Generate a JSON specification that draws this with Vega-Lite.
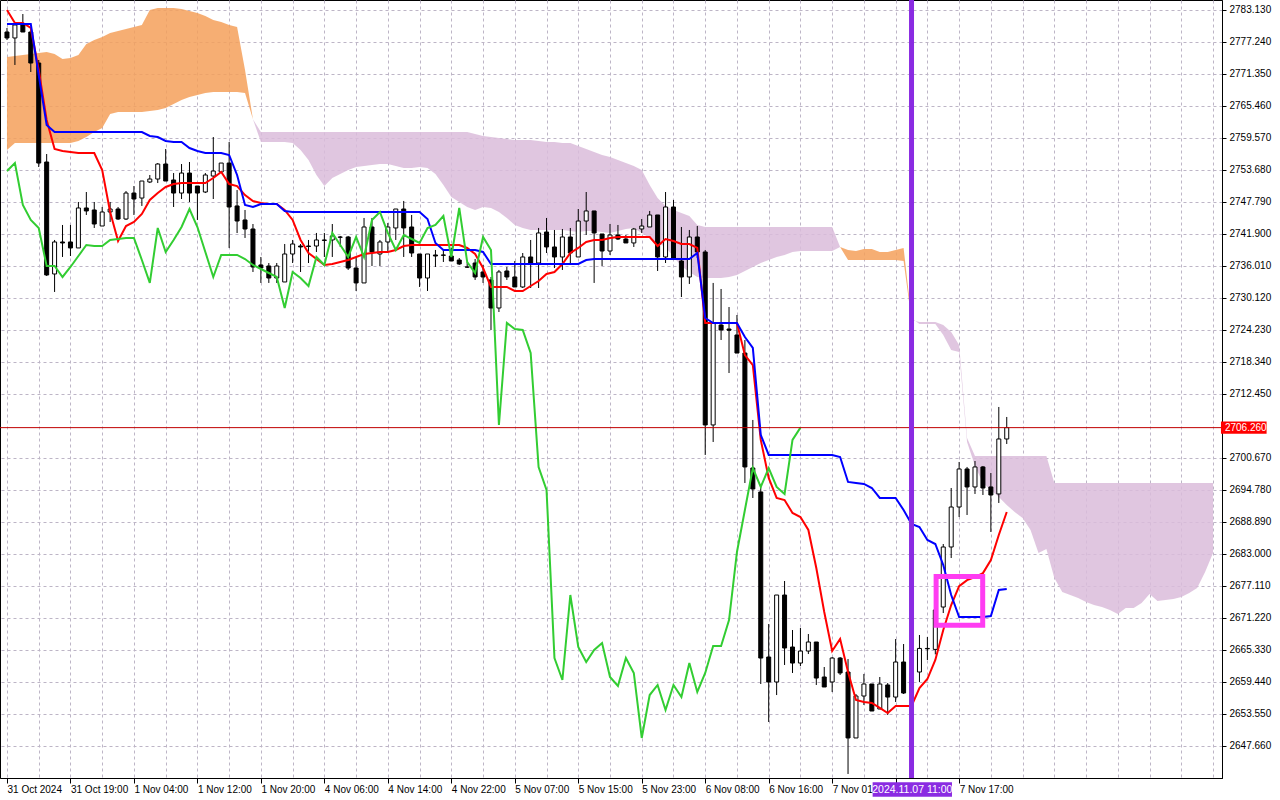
{
"$schema":"https://vega.github.io/schema/vega-lite/v6.json",
"width":1222,"height":778,
"autosize":{"type":"none"},
"padding":{"left":0,"top":0,"right":58,"bottom":22},
"background":"white",
"config":{"view":{"stroke":"#000","strokeWidth":1},
 "axis":{"labelFont":"Liberation Sans","labelFontSize":10,"labelColor":"#000","tickColor":"#000","domainColor":"#000","gridColor":"#bdb5c6","gridDash":[3,3],"gridWidth":1,"labelOverlap":false,"labelFlush":false,"labelBound":false}},
"datasets":{
"bars":[
{"i":0,"o":2779.08,"h":2779.82,"l":2777.61,"c":2777.98,"tk":2783.13,"kj":2780.55,"ck":2753.49},
{"i":1,"o":2777.98,"h":2780.37,"l":2773.01,"c":2780.37,"tk":2780.74,"kj":2780.55,"ck":2754.96},
{"i":2,"o":2780.37,"h":2782.39,"l":2779.08,"c":2779.08,"tk":2780.74,"kj":2780.55,"ck":2747.24},
{"i":3,"o":2779.08,"h":2780.00,"l":2771.72,"c":2773.37,"tk":2779.82,"kj":2780.55,"ck":2744.48},
{"i":4,"o":2773.37,"h":2773.93,"l":2754.23,"c":2754.96,"tk":2772.09,"kj":2771.17,"ck":2743.01},
{"i":5,"o":2755.15,"h":2756.62,"l":2734.17,"c":2734.36,"tk":2762.88,"kj":2761.96,"ck":2736.01},
{"i":6,"o":2734.54,"h":2740.80,"l":2731.23,"c":2740.43,"tk":2757.54,"kj":2760.67,"ck":2736.01},
{"i":7,"o":2740.43,"h":2743.56,"l":2737.67,"c":2740.25,"tk":2757.17,"kj":2760.67,"ck":2733.99},
{"i":8,"o":2740.43,"h":2743.56,"l":2737.85,"c":2739.33,"tk":2756.99,"kj":2760.67,"ck":2735.83},
{"i":9,"o":2739.33,"h":2747.79,"l":2739.33,"c":2746.69,"tk":2756.80,"kj":2760.67,"ck":2737.85},
{"i":10,"o":2746.69,"h":2749.63,"l":2745.40,"c":2746.14,"tk":2756.80,"kj":2760.67,"ck":2739.88},
{"i":11,"o":2746.32,"h":2747.79,"l":2743.01,"c":2743.74,"tk":2756.80,"kj":2760.67,"ck":2739.69},
{"i":12,"o":2743.37,"h":2746.87,"l":2743.37,"c":2745.95,"tk":2753.67,"kj":2760.67,"ck":2739.69},
{"i":13,"o":2745.95,"h":2747.79,"l":2744.11,"c":2746.50,"tk":2745.95,"kj":2760.67,"ck":2740.80},
{"i":14,"o":2746.50,"h":2746.87,"l":2744.48,"c":2744.66,"tk":2740.61,"kj":2760.67,"ck":2740.98},
{"i":15,"o":2744.66,"h":2749.81,"l":2744.48,"c":2749.44,"tk":2743.37,"kj":2760.67,"ck":2741.17},
{"i":16,"o":2749.44,"h":2750.73,"l":2745.40,"c":2748.34,"tk":2744.11,"kj":2760.67,"ck":2741.17},
{"i":17,"o":2748.52,"h":2751.65,"l":2747.06,"c":2751.65,"tk":2745.58,"kj":2760.67,"ck":2737.11},
{"i":18,"o":2751.47,"h":2752.76,"l":2751.28,"c":2752.02,"tk":2748.16,"kj":2759.94,"ck":2732.89},
{"i":19,"o":2752.02,"h":2754.96,"l":2751.28,"c":2754.78,"tk":2749.44,"kj":2759.75,"ck":2743.01},
{"i":20,"o":2754.78,"h":2757.54,"l":2751.65,"c":2751.65,"tk":2750.55,"kj":2759.02,"ck":2738.59},
{"i":21,"o":2751.84,"h":2753.12,"l":2746.87,"c":2749.44,"tk":2751.10,"kj":2758.83,"ck":2740.80},
{"i":22,"o":2749.44,"h":2754.78,"l":2748.34,"c":2753.12,"tk":2751.28,"kj":2758.83,"ck":2743.19},
{"i":23,"o":2753.12,"h":2755.15,"l":2747.79,"c":2749.44,"tk":2751.28,"kj":2757.73,"ck":2746.50},
{"i":24,"o":2750.73,"h":2750.73,"l":2744.48,"c":2749.44,"tk":2751.28,"kj":2757.17,"ck":2743.19},
{"i":25,"o":2749.63,"h":2753.12,"l":2749.44,"c":2752.76,"tk":2751.28,"kj":2756.80,"ck":2738.59},
{"i":26,"o":2752.57,"h":2759.75,"l":2748.34,"c":2753.49,"tk":2752.20,"kj":2756.80,"ck":2733.99},
{"i":27,"o":2753.31,"h":2754.96,"l":2753.31,"c":2754.96,"tk":2753.31,"kj":2756.80,"ck":2738.04},
{"i":28,"o":2754.96,"h":2758.83,"l":2739.33,"c":2746.87,"tk":2751.10,"kj":2756.44,"ck":2738.04},
{"i":29,"o":2747.06,"h":2749.99,"l":2742.08,"c":2744.29,"tk":2750.73,"kj":2752.76,"ck":2738.04},
{"i":30,"o":2744.48,"h":2746.32,"l":2741.17,"c":2742.82,"tk":2749.07,"kj":2747.24,"ck":2737.30},
{"i":31,"o":2742.82,"h":2743.74,"l":2734.91,"c":2735.83,"tk":2747.98,"kj":2746.87,"ck":2736.20},
{"i":32,"o":2736.20,"h":2737.67,"l":2732.89,"c":2735.64,"tk":2747.61,"kj":2747.42,"ck":2735.46},
{"i":33,"o":2736.01,"h":2736.56,"l":2732.89,"c":2733.80,"tk":2747.42,"kj":2747.42,"ck":2734.72},
{"i":34,"o":2733.80,"h":2736.56,"l":2732.89,"c":2736.01,"tk":2747.42,"kj":2747.42,"ck":2733.99},
{"i":35,"o":2733.07,"h":2740.06,"l":2733.07,"c":2738.22,"tk":2746.32,"kj":2746.14,"ck":2728.28},
{"i":36,"o":2738.22,"h":2740.80,"l":2736.56,"c":2740.06,"tk":2744.48,"kj":2745.95,"ck":2734.91},
{"i":37,"o":2739.69,"h":2740.06,"l":2734.91,"c":2739.51,"tk":2740.80,"kj":2745.95,"ck":2733.80},
{"i":38,"o":2739.69,"h":2740.80,"l":2736.56,"c":2739.60,"tk":2738.40,"kj":2745.95,"ck":2732.33},
{"i":39,"o":2739.69,"h":2742.09,"l":2738.59,"c":2740.80,"tk":2737.30,"kj":2745.95,"ck":2737.67},
{"i":40,"o":2740.80,"h":2742.09,"l":2737.67,"c":2740.72,"tk":2736.20,"kj":2745.95,"ck":2736.20},
{"i":41,"o":2740.80,"h":2743.74,"l":2737.67,"c":2741.54,"tk":2736.38,"kj":2745.95,"ck":2742.09},
{"i":42,"o":2741.35,"h":2741.54,"l":2739.51,"c":2741.30,"tk":2736.75,"kj":2745.95,"ck":2739.88},
{"i":43,"o":2741.35,"h":2741.54,"l":2735.28,"c":2735.64,"tk":2737.11,"kj":2745.95,"ck":2737.67},
{"i":44,"o":2735.64,"h":2737.67,"l":2731.41,"c":2732.89,"tk":2737.67,"kj":2745.95,"ck":2741.35},
{"i":45,"o":2732.89,"h":2744.85,"l":2732.89,"c":2743.19,"tk":2738.22,"kj":2745.95,"ck":2737.67},
{"i":46,"o":2743.19,"h":2744.85,"l":2736.01,"c":2738.59,"tk":2738.40,"kj":2745.95,"ck":2744.48},
{"i":47,"o":2738.22,"h":2740.80,"l":2736.01,"c":2740.43,"tk":2738.59,"kj":2745.95,"ck":2745.95},
{"i":48,"o":2740.43,"h":2743.93,"l":2738.59,"c":2743.19,"tk":2738.59,"kj":2745.95,"ck":2742.09},
{"i":49,"o":2743.01,"h":2746.50,"l":2740.80,"c":2746.50,"tk":2738.96,"kj":2745.95,"ck":2738.96},
{"i":50,"o":2746.50,"h":2747.98,"l":2737.67,"c":2743.01,"tk":2739.69,"kj":2745.95,"ck":2741.72},
{"i":51,"o":2743.19,"h":2745.40,"l":2737.67,"c":2738.40,"tk":2739.88,"kj":2745.95,"ck":2740.98},
{"i":52,"o":2738.22,"h":2738.22,"l":2732.15,"c":2733.80,"tk":2739.88,"kj":2745.95,"ck":2740.25},
{"i":53,"o":2733.80,"h":2738.22,"l":2731.41,"c":2738.22,"tk":2739.88,"kj":2744.66,"ck":2743.01},
{"i":54,"o":2738.04,"h":2738.96,"l":2735.83,"c":2737.85,"tk":2739.88,"kj":2740.25,"ck":2743.56},
{"i":55,"o":2738.04,"h":2738.96,"l":2736.75,"c":2737.98,"tk":2739.88,"kj":2738.96,"ck":2745.21},
{"i":56,"o":2737.85,"h":2739.33,"l":2736.93,"c":2736.93,"tk":2739.88,"kj":2738.96,"ck":2737.67},
{"i":57,"o":2737.11,"h":2737.48,"l":2736.20,"c":2736.38,"tk":2739.88,"kj":2738.96,"ck":2746.69},
{"i":58,"o":2735.83,"h":2736.75,"l":2735.64,"c":2735.80,"tk":2739.33,"kj":2738.96,"ck":2736.75},
{"i":59,"o":2736.56,"h":2737.30,"l":2733.44,"c":2733.99,"tk":2738.22,"kj":2738.96,"ck":2734.72},
{"i":60,"o":2734.91,"h":2736.20,"l":2732.89,"c":2733.99,"tk":2735.64,"kj":2738.59,"ck":2741.35},
{"i":61,"o":2733.44,"h":2733.99,"l":2724.23,"c":2728.28,"tk":2732.15,"kj":2736.38,"ck":2738.96},
{"i":62,"o":2728.28,"h":2735.28,"l":2727.54,"c":2734.91,"tk":2732.15,"kj":2736.38,"ck":2706.75},
{"i":63,"o":2735.09,"h":2735.83,"l":2733.44,"c":2733.99,"tk":2732.15,"kj":2736.38,"ck":2725.52},
{"i":64,"o":2733.99,"h":2736.93,"l":2732.15,"c":2732.15,"tk":2731.41,"kj":2736.38,"ck":2724.41},
{"i":65,"o":2732.15,"h":2738.40,"l":2731.96,"c":2737.67,"tk":2731.41,"kj":2736.38,"ck":2724.23},
{"i":66,"o":2737.67,"h":2740.80,"l":2731.96,"c":2736.56,"tk":2732.33,"kj":2736.38,"ck":2719.99},
{"i":67,"o":2736.56,"h":2743.01,"l":2731.96,"c":2742.09,"tk":2733.25,"kj":2736.38,"ck":2699.02},
{"i":68,"o":2742.27,"h":2744.85,"l":2738.40,"c":2739.51,"tk":2734.54,"kj":2736.38,"ck":2694.79},
{"i":69,"o":2739.51,"h":2742.64,"l":2735.64,"c":2737.67,"tk":2734.91,"kj":2736.38,"ck":2663.85},
{"i":70,"o":2737.67,"h":2742.82,"l":2735.28,"c":2741.35,"tk":2736.38,"kj":2736.38,"ck":2659.81},
{"i":71,"o":2741.35,"h":2743.01,"l":2736.56,"c":2738.40,"tk":2738.40,"kj":2736.38,"ck":2675.45},
{"i":72,"o":2737.67,"h":2746.50,"l":2737.67,"c":2744.29,"tk":2739.33,"kj":2736.38,"ck":2665.88},
{"i":73,"o":2744.29,"h":2749.63,"l":2741.72,"c":2746.14,"tk":2740.43,"kj":2737.11,"ck":2663.12},
{"i":74,"o":2746.14,"h":2746.14,"l":2732.89,"c":2742.09,"tk":2740.80,"kj":2737.30,"ck":2665.33},
{"i":75,"o":2741.90,"h":2741.90,"l":2736.01,"c":2738.77,"tk":2740.80,"kj":2737.30,"ck":2666.62},
{"i":76,"o":2738.77,"h":2743.74,"l":2738.04,"c":2741.72,"tk":2741.17,"kj":2737.30,"ck":2660.36},
{"i":77,"o":2741.72,"h":2743.56,"l":2740.80,"c":2740.98,"tk":2741.35,"kj":2737.30,"ck":2658.70},
{"i":78,"o":2740.98,"h":2741.72,"l":2740.25,"c":2740.25,"tk":2741.35,"kj":2737.30,"ck":2663.85},
{"i":79,"o":2740.25,"h":2743.01,"l":2739.51,"c":2742.82,"tk":2741.35,"kj":2737.30,"ck":2661.10},
{"i":80,"o":2742.82,"h":2744.66,"l":2742.09,"c":2743.37,"tk":2741.35,"kj":2737.30,"ck":2649.14},
{"i":81,"o":2743.19,"h":2746.14,"l":2743.19,"c":2745.40,"tk":2741.35,"kj":2737.30,"ck":2657.04},
{"i":82,"o":2745.40,"h":2745.40,"l":2735.09,"c":2737.67,"tk":2739.69,"kj":2737.30,"ck":2658.89},
{"i":83,"o":2737.67,"h":2749.63,"l":2736.56,"c":2746.87,"tk":2740.98,"kj":2737.30,"ck":2654.29},
{"i":84,"o":2746.87,"h":2748.16,"l":2737.48,"c":2737.48,"tk":2740.61,"kj":2737.30,"ck":2658.89},
{"i":85,"o":2736.93,"h":2743.19,"l":2730.30,"c":2733.99,"tk":2740.06,"kj":2737.30,"ck":2656.67},
{"i":86,"o":2733.99,"h":2742.64,"l":2732.70,"c":2741.35,"tk":2740.06,"kj":2737.30,"ck":2662.93},
{"i":87,"o":2741.35,"h":2743.37,"l":2737.48,"c":2738.59,"tk":2739.33,"kj":2738.40,"ck":2657.60},
{"i":88,"o":2738.59,"h":2738.96,"l":2701.23,"c":2706.75,"tk":2725.52,"kj":2726.44,"ck":2661.10},
{"i":89,"o":2706.75,"h":2732.89,"l":2703.62,"c":2725.52,"tk":2725.52,"kj":2725.52,"ck":2666.07},
{"i":90,"o":2725.15,"h":2731.78,"l":2722.39,"c":2724.23,"tk":2725.52,"kj":2725.52,"ck":2666.07},
{"i":91,"o":2724.41,"h":2728.46,"l":2716.31,"c":2724.18,"tk":2725.52,"kj":2725.52,"ck":2670.85},
{"i":92,"o":2723.31,"h":2726.99,"l":2719.99,"c":2719.99,"tk":2725.52,"kj":2725.52,"ck":2683.37},
{"i":93,"o":2719.99,"h":2722.39,"l":2696.07,"c":2699.02,"tk":2719.62,"kj":2722.94,"ck":2691.10},
{"i":94,"o":2698.83,"h":2707.67,"l":2693.31,"c":2694.97,"tk":2717.78,"kj":2720.92,"ck":2698.83},
{"i":95,"o":2694.42,"h":2695.34,"l":2659.07,"c":2663.85,"tk":2703.99,"kj":2704.91,"ck":2695.34},
{"i":96,"o":2664.04,"h":2670.11,"l":2652.08,"c":2659.44,"tk":2696.99,"kj":2701.23,"ck":2698.83},
{"i":97,"o":2659.44,"h":2675.45,"l":2657.04,"c":2675.45,"tk":2693.31,"kj":2701.23,"ck":2695.34},
{"i":98,"o":2675.45,"h":2678.03,"l":2662.57,"c":2665.70,"tk":2692.94,"kj":2701.23,"ck":2694.05},
{"i":99,"o":2665.88,"h":2669.01,"l":2661.10,"c":2662.93,"tk":2690.55,"kj":2701.23,"ck":2703.99},
{"i":100,"o":2662.93,"h":2669.38,"l":2662.38,"c":2665.14,"tk":2689.81,"kj":2701.23,"ck":2706.26},
{"i":101,"o":2665.14,"h":2668.27,"l":2664.59,"c":2666.80,"tk":2687.42,"kj":2701.23},
{"i":102,"o":2666.80,"h":2666.80,"l":2658.89,"c":2660.17,"tk":2680.42,"kj":2701.23},
{"i":103,"o":2660.36,"h":2662.20,"l":2658.52,"c":2658.52,"tk":2672.32,"kj":2701.23},
{"i":104,"o":2659.44,"h":2664.04,"l":2657.60,"c":2663.85,"tk":2665.14,"kj":2701.23},
{"i":105,"o":2663.85,"h":2664.04,"l":2660.73,"c":2661.10,"tk":2667.35,"kj":2700.86},
{"i":106,"o":2661.28,"h":2663.67,"l":2642.51,"c":2649.14,"tk":2661.28,"kj":2696.26},
{"i":107,"o":2649.14,"h":2657.23,"l":2649.14,"c":2656.86,"tk":2656.13,"kj":2696.07},
{"i":108,"o":2656.86,"h":2660.92,"l":2655.21,"c":2659.07,"tk":2655.76,"kj":2695.89},
{"i":109,"o":2659.07,"h":2659.07,"l":2654.10,"c":2654.10,"tk":2655.58,"kj":2695.15},
{"i":110,"o":2654.47,"h":2660.36,"l":2654.47,"c":2659.07,"tk":2654.66,"kj":2693.31},
{"i":111,"o":2658.89,"h":2659.25,"l":2653.37,"c":2656.67,"tk":2653.73,"kj":2693.31},
{"i":112,"o":2656.67,"h":2667.35,"l":2655.76,"c":2663.12,"tk":2655.03,"kj":2693.31},
{"i":113,"o":2663.12,"h":2666.43,"l":2657.23,"c":2657.41,"tk":2655.03,"kj":2691.10},
{"i":114,"o":2657.41,"h":2663.49,"l":2656.67,"c":2661.10,"tk":2655.03,"kj":2688.52},
{"i":115,"o":2661.28,"h":2668.09,"l":2659.44,"c":2665.62,"tk":2658.34,"kj":2687.97},
{"i":116,"o":2665.62,"h":2667.72,"l":2663.49,"c":2665.55,"tk":2659.99,"kj":2685.58},
{"i":117,"o":2665.44,"h":2674.53,"l":2664.53,"c":2672.69,"tk":2663.49,"kj":2684.84},
{"i":118,"o":2673.24,"h":2684.84,"l":2672.14,"c":2684.29,"tk":2669.01,"kj":2680.98},
{"i":119,"o":2684.29,"h":2695.15,"l":2682.26,"c":2691.65,"tk":2673.61,"kj":2675.45},
{"i":120,"o":2691.65,"h":2699.94,"l":2689.81,"c":2698.65,"tk":2677.08,"kj":2671.40},
{"i":121,"o":2698.65,"h":2699.02,"l":2690.18,"c":2695.34,"tk":2678.19,"kj":2671.40},
{"i":122,"o":2695.34,"h":2700.12,"l":2694.05,"c":2699.02,"tk":2678.74,"kj":2671.40},
{"i":123,"o":2699.02,"h":2699.20,"l":2693.86,"c":2695.15,"tk":2679.48,"kj":2671.40},
{"i":124,"o":2695.34,"h":2697.91,"l":2687.05,"c":2693.86,"tk":2681.90,"kj":2671.59},
{"i":125,"o":2694.05,"h":2710.06,"l":2692.39,"c":2704.17,"tk":2686.50,"kj":2676.37},
{"i":126,"o":2704.17,"h":2708.22,"l":2703.25,"c":2706.26,"tk":2690.73,"kj":2676.56}
],
"cloud":[
{"i":0,"a":2774.48,"b":2757.36,"s":1,"t":"up"},
{"i":1,"a":2774.66,"b":2758.65,"s":1,"t":"up"},
{"i":2,"a":2774.85,"b":2758.65,"s":1,"t":"up"},
{"i":3,"a":2775.03,"b":2758.65,"s":1,"t":"up"},
{"i":4,"a":2775.21,"b":2758.65,"s":1,"t":"up"},
{"i":5,"a":2775.40,"b":2758.65,"s":1,"t":"up"},
{"i":6,"a":2775.03,"b":2758.65,"s":1,"t":"up"},
{"i":7,"a":2774.11,"b":2758.65,"s":1,"t":"up"},
{"i":8,"a":2774.29,"b":2758.65,"s":1,"t":"up"},
{"i":9,"a":2774.85,"b":2759.02,"s":1,"t":"up"},
{"i":10,"a":2776.87,"b":2759.75,"s":1,"t":"up"},
{"i":11,"a":2777.61,"b":2760.67,"s":1,"t":"up"},
{"i":12,"a":2778.16,"b":2761.40,"s":1,"t":"up"},
{"i":13,"a":2778.90,"b":2763.98,"s":1,"t":"up"},
{"i":14,"a":2779.26,"b":2764.35,"s":1,"t":"up"},
{"i":15,"a":2779.63,"b":2764.35,"s":1,"t":"up"},
{"i":16,"a":2780.00,"b":2764.35,"s":1,"t":"up"},
{"i":17,"a":2780.37,"b":2764.35,"s":1,"t":"up"},
{"i":18,"a":2783.13,"b":2764.53,"s":1,"t":"up"},
{"i":19,"a":2783.50,"b":2764.72,"s":1,"t":"up"},
{"i":20,"a":2783.50,"b":2765.09,"s":1,"t":"up"},
{"i":21,"a":2783.50,"b":2765.82,"s":1,"t":"up"},
{"i":22,"a":2783.31,"b":2766.56,"s":1,"t":"up"},
{"i":23,"a":2782.95,"b":2767.12,"s":1,"t":"up"},
{"i":24,"a":2782.58,"b":2767.48,"s":1,"t":"up"},
{"i":25,"a":2782.03,"b":2767.85,"s":1,"t":"up"},
{"i":26,"a":2781.29,"b":2768.04,"s":1,"t":"up"},
{"i":27,"a":2780.92,"b":2768.04,"s":1,"t":"up"},
{"i":28,"a":2780.37,"b":2768.04,"s":1,"t":"up"},
{"i":29,"a":2780.00,"b":2768.04,"s":1,"t":"up"},
{"i":30,"a":2772.09,"b":2767.85,"s":1,"t":"up"},
{"i":31,"a":2763.00,"b":2763.00,"s":1,"t":"up"},
{"i":31,"a":2763.00,"b":2763.00,"s":2,"t":"dn"},
{"i":32,"a":2758.83,"b":2760.67,"s":2,"t":"dn"},
{"i":33,"a":2758.83,"b":2760.67,"s":2,"t":"dn"},
{"i":34,"a":2758.83,"b":2760.67,"s":2,"t":"dn"},
{"i":35,"a":2758.83,"b":2760.67,"s":2,"t":"dn"},
{"i":36,"a":2758.65,"b":2760.67,"s":2,"t":"dn"},
{"i":37,"a":2757.36,"b":2760.67,"s":2,"t":"dn"},
{"i":38,"a":2755.52,"b":2760.67,"s":2,"t":"dn"},
{"i":39,"a":2752.76,"b":2760.67,"s":2,"t":"dn"},
{"i":40,"a":2750.73,"b":2760.67,"s":2,"t":"dn"},
{"i":41,"a":2752.20,"b":2760.67,"s":2,"t":"dn"},
{"i":42,"a":2752.94,"b":2760.67,"s":2,"t":"dn"},
{"i":43,"a":2753.67,"b":2760.67,"s":2,"t":"dn"},
{"i":44,"a":2754.23,"b":2760.67,"s":2,"t":"dn"},
{"i":45,"a":2754.41,"b":2760.67,"s":2,"t":"dn"},
{"i":46,"a":2754.59,"b":2760.67,"s":2,"t":"dn"},
{"i":47,"a":2754.78,"b":2760.67,"s":2,"t":"dn"},
{"i":48,"a":2754.78,"b":2760.67,"s":2,"t":"dn"},
{"i":49,"a":2754.41,"b":2760.67,"s":2,"t":"dn"},
{"i":50,"a":2754.04,"b":2760.67,"s":2,"t":"dn"},
{"i":51,"a":2754.04,"b":2760.67,"s":2,"t":"dn"},
{"i":52,"a":2754.23,"b":2760.67,"s":2,"t":"dn"},
{"i":53,"a":2754.04,"b":2760.67,"s":2,"t":"dn"},
{"i":54,"a":2752.94,"b":2760.67,"s":2,"t":"dn"},
{"i":55,"a":2750.92,"b":2760.67,"s":2,"t":"dn"},
{"i":56,"a":2748.71,"b":2760.67,"s":2,"t":"dn"},
{"i":57,"a":2747.79,"b":2760.67,"s":2,"t":"dn"},
{"i":58,"a":2746.87,"b":2760.67,"s":2,"t":"dn"},
{"i":59,"a":2746.32,"b":2760.30,"s":2,"t":"dn"},
{"i":60,"a":2746.87,"b":2759.94,"s":2,"t":"dn"},
{"i":61,"a":2746.69,"b":2759.75,"s":2,"t":"dn"},
{"i":62,"a":2745.95,"b":2759.56,"s":2,"t":"dn"},
{"i":63,"a":2744.85,"b":2759.38,"s":2,"t":"dn"},
{"i":64,"a":2743.56,"b":2759.20,"s":2,"t":"dn"},
{"i":65,"a":2743.01,"b":2759.20,"s":2,"t":"dn"},
{"i":66,"a":2742.64,"b":2759.20,"s":2,"t":"dn"},
{"i":67,"a":2742.64,"b":2759.02,"s":2,"t":"dn"},
{"i":68,"a":2742.64,"b":2758.83,"s":2,"t":"dn"},
{"i":69,"a":2742.64,"b":2758.83,"s":2,"t":"dn"},
{"i":70,"a":2742.64,"b":2758.65,"s":2,"t":"dn"},
{"i":71,"a":2742.45,"b":2758.65,"s":2,"t":"dn"},
{"i":72,"a":2742.27,"b":2758.10,"s":2,"t":"dn"},
{"i":73,"a":2742.45,"b":2757.54,"s":2,"t":"dn"},
{"i":74,"a":2742.45,"b":2756.99,"s":2,"t":"dn"},
{"i":75,"a":2742.27,"b":2756.44,"s":2,"t":"dn"},
{"i":76,"a":2742.08,"b":2756.07,"s":2,"t":"dn"},
{"i":77,"a":2742.45,"b":2755.52,"s":2,"t":"dn"},
{"i":78,"a":2742.82,"b":2754.96,"s":2,"t":"dn"},
{"i":79,"a":2743.01,"b":2754.41,"s":2,"t":"dn"},
{"i":80,"a":2742.08,"b":2753.67,"s":2,"t":"dn"},
{"i":81,"a":2741.17,"b":2750.92,"s":2,"t":"dn"},
{"i":82,"a":2740.25,"b":2748.52,"s":2,"t":"dn"},
{"i":83,"a":2739.51,"b":2747.06,"s":2,"t":"dn"},
{"i":84,"a":2737.67,"b":2746.32,"s":2,"t":"dn"},
{"i":85,"a":2736.01,"b":2745.77,"s":2,"t":"dn"},
{"i":86,"a":2734.91,"b":2745.21,"s":2,"t":"dn"},
{"i":87,"a":2733.99,"b":2743.56,"s":2,"t":"dn"},
{"i":88,"a":2733.80,"b":2743.19,"s":2,"t":"dn"},
{"i":89,"a":2733.80,"b":2743.19,"s":2,"t":"dn"},
{"i":90,"a":2733.80,"b":2743.19,"s":2,"t":"dn"},
{"i":91,"a":2733.99,"b":2743.19,"s":2,"t":"dn"},
{"i":92,"a":2734.36,"b":2743.19,"s":2,"t":"dn"},
{"i":93,"a":2735.09,"b":2743.19,"s":2,"t":"dn"},
{"i":94,"a":2735.83,"b":2743.19,"s":2,"t":"dn"},
{"i":95,"a":2736.56,"b":2743.19,"s":2,"t":"dn"},
{"i":96,"a":2737.11,"b":2743.19,"s":2,"t":"dn"},
{"i":97,"a":2737.67,"b":2743.19,"s":2,"t":"dn"},
{"i":98,"a":2738.04,"b":2743.19,"s":2,"t":"dn"},
{"i":99,"a":2738.59,"b":2743.19,"s":2,"t":"dn"},
{"i":100,"a":2738.77,"b":2743.19,"s":2,"t":"dn"},
{"i":101,"a":2738.77,"b":2743.19,"s":2,"t":"dn"},
{"i":102,"a":2738.77,"b":2743.19,"s":2,"t":"dn"},
{"i":103,"a":2738.77,"b":2743.19,"s":2,"t":"dn"},
{"i":104,"a":2738.77,"b":2743.19,"s":2,"t":"dn"},
{"i":105,"a":2739.50,"b":2739.50,"s":2,"t":"dn"},
{"i":105,"a":2739.50,"b":2739.50,"s":3,"t":"up"},
{"i":106,"a":2738.96,"b":2737.11,"s":3,"t":"up"},
{"i":107,"a":2738.77,"b":2737.11,"s":3,"t":"up"},
{"i":108,"a":2739.14,"b":2737.11,"s":3,"t":"up"},
{"i":109,"a":2739.14,"b":2737.11,"s":3,"t":"up"},
{"i":110,"a":2738.59,"b":2737.11,"s":3,"t":"up"},
{"i":111,"a":2738.59,"b":2737.11,"s":3,"t":"up"},
{"i":112,"a":2738.96,"b":2737.11,"s":3,"t":"up"},
{"i":113,"a":2739.33,"b":2736.93,"s":3,"t":"up"},
{"i":114,"a":2726.44,"b":2726.07,"s":3,"t":"up"},
{"i":114,"a":2726.44,"b":2726.07,"s":4,"t":"dn"},
{"i":115,"a":2725.33,"b":2725.70,"s":4,"t":"dn"},
{"i":116,"a":2725.33,"b":2725.70,"s":4,"t":"dn"},
{"i":117,"a":2725.33,"b":2725.70,"s":4,"t":"dn"},
{"i":118,"a":2723.31,"b":2725.15,"s":4,"t":"dn"},
{"i":119,"a":2720.55,"b":2723.86,"s":4,"t":"dn"},
{"i":120,"a":2720.18,"b":2721.47,"s":4,"t":"dn"},
{"i":121,"a":2703.62,"b":2704.36,"s":4,"t":"dn"},
{"i":122,"a":2699.20,"b":2701.04,"s":4,"t":"dn"},
{"i":123,"a":2696.07,"b":2701.04,"s":4,"t":"dn"},
{"i":124,"a":2694.79,"b":2701.04,"s":4,"t":"dn"},
{"i":125,"a":2693.50,"b":2701.04,"s":4,"t":"dn"},
{"i":126,"a":2692.02,"b":2701.04,"s":4,"t":"dn"},
{"i":127,"a":2690.73,"b":2701.04,"s":4,"t":"dn"},
{"i":128,"a":2689.63,"b":2701.04,"s":4,"t":"dn"},
{"i":129,"a":2687.42,"b":2701.04,"s":4,"t":"dn"},
{"i":130,"a":2683.19,"b":2701.04,"s":4,"t":"dn"},
{"i":131,"a":2683.92,"b":2701.04,"s":4,"t":"dn"},
{"i":132,"a":2678.58,"b":2696.07,"s":4,"t":"dn"},
{"i":133,"a":2676.00,"b":2696.07,"s":4,"t":"dn"},
{"i":134,"a":2675.45,"b":2696.07,"s":4,"t":"dn"},
{"i":135,"a":2674.90,"b":2696.07,"s":4,"t":"dn"},
{"i":136,"a":2674.16,"b":2696.07,"s":4,"t":"dn"},
{"i":137,"a":2673.61,"b":2696.07,"s":4,"t":"dn"},
{"i":138,"a":2673.24,"b":2696.07,"s":4,"t":"dn"},
{"i":139,"a":2672.69,"b":2696.07,"s":4,"t":"dn"},
{"i":140,"a":2671.95,"b":2696.07,"s":4,"t":"dn"},
{"i":141,"a":2673.06,"b":2696.07,"s":4,"t":"dn"},
{"i":142,"a":2673.06,"b":2696.07,"s":4,"t":"dn"},
{"i":143,"a":2673.98,"b":2696.07,"s":4,"t":"dn"},
{"i":144,"a":2675.64,"b":2696.07,"s":4,"t":"dn"},
{"i":145,"a":2674.35,"b":2696.07,"s":4,"t":"dn"},
{"i":146,"a":2674.53,"b":2696.07,"s":4,"t":"dn"},
{"i":147,"a":2674.72,"b":2696.07,"s":4,"t":"dn"},
{"i":148,"a":2675.08,"b":2696.07,"s":4,"t":"dn"},
{"i":149,"a":2675.82,"b":2696.07,"s":4,"t":"dn"},
{"i":150,"a":2676.74,"b":2696.07,"s":4,"t":"dn"},
{"i":151,"a":2679.69,"b":2696.07,"s":4,"t":"dn"},
{"i":152,"a":2683.19,"b":2696.07,"s":4,"t":"dn"}
],
"price":[{"p":2706.26}],
"vline":[{"i":114}],
"box":[{"x1":117.1,"x2":122.97,"y1":2669.9,"y2":2678.86}],
"tag":[{"x1":109.1,"x2":119.1,"y1":2638.3,"y2":2641.0,"xm":114.1,"ym":2639.65,"label":"2024.11.07 11:00"}],
"ptag":[{"x1":153.0,"x2":158.75,"y1":2705.15,"y2":2707.4,"xt":153.5,"yt":2706.26,"label":"2706.260"}]
},
"layer":[
{"data":{"name":"cloud"},
 "mark":{"type":"area","fillOpacity":0.85,"interpolate":"linear"},
 "encoding":{
  "x":{"field":"i","type":"quantitative","scale":{"domain":[-0.25,152.5],"nice":false,"zero":false},
   "axis":{"orient":"bottom","title":null,"tickCount":500,
    "values":[0,4,8,12,16,20,24,28,32,36,40,44,48,52,56,60,64,68,72,76,80,84,88,92,96,100,104,108,112,116,120,124,128,132,136,140,144,148,152],
    "labelExpr":"(datum.value % 8 == 0 && datum.value <= 120 && datum.value != 112) ? ['31 Oct 2024','31 Oct 19:00','1 Nov 04:00','1 Nov 12:00','1 Nov 20:00','4 Nov 06:00','4 Nov 14:00','4 Nov 22:00','5 Nov 07:00','5 Nov 15:00','5 Nov 23:00','6 Nov 08:00','6 Nov 16:00','7 Nov 01:00','7 Nov 09:00','7 Nov 17:00'][datum.value / 8] : ''",
    "labelAlign":"left","labelBaseline":"top","labelPadding":1,"labelOverlap":false,"labelFlush":false,"labelBound":false,
    "tickSize":5,
    "tickOpacity":{"condition":{"test":"datum.value % 8 == 0 && datum.value <= 120","value":1},"value":0},
    "grid":true}},
  "y":{"field":"a","type":"quantitative","scale":{"domain":[2641.77,2784.97],"nice":false,"zero":false},
   "axis":{"orient":"right","title":null,"tickCount":500,
    "values":[2647.66,2653.55,2659.44,2665.33,2671.22,2677.11,2683.0,2688.89,2694.78,2700.67,2712.45,2718.34,2724.23,2730.12,2736.01,2741.9,2747.79,2753.68,2759.57,2765.46,2771.35,2777.24,2783.13],
    "format":".3f","labelAlign":"left","labelBaseline":"middle","labelPadding":3,"labelOverlap":false,"labelFlush":false,"labelBound":false,
    "tickSize":4,"grid":true}},
  "y2":{"field":"b"},
  "color":{"field":"t","type":"nominal","scale":{"domain":["up","dn"],"range":["#f4a05a","#dabcdb"]},"legend":null},
  "detail":{"field":"s","type":"nominal"}
 }},
{"data":{"name":"bars"},
 "mark":{"type":"rule","color":"#000","strokeWidth":1},
 "encoding":{
  "x":{"field":"i","type":"quantitative"},
  "y":{"field":"l","type":"quantitative"},
  "y2":{"field":"h"}}},
{"data":{"name":"bars"},
 "mark":{"type":"bar","size":4,"stroke":"#000","strokeWidth":1},
 "encoding":{
  "x":{"field":"i","type":"quantitative"},
  "y":{"field":"o","type":"quantitative"},
  "y2":{"field":"c"},
  "fill":{"condition":{"test":"datum.c > datum.o","value":"#ffffff"},"value":"#000000"}}},
{"data":{"name":"bars"},
 "mark":{"type":"line","color":"#ff0000","strokeWidth":2},
 "encoding":{
  "x":{"field":"i","type":"quantitative"},
  "y":{"field":"tk","type":"quantitative"}}},
{"data":{"name":"bars"},
 "mark":{"type":"line","color":"#0000ff","strokeWidth":2},
 "encoding":{
  "x":{"field":"i","type":"quantitative"},
  "y":{"field":"kj","type":"quantitative"}}},
{"data":{"name":"bars"},
 "mark":{"type":"line","color":"#32cd32","strokeWidth":2},
 "encoding":{
  "x":{"field":"i","type":"quantitative"},
  "y":{"field":"ck","type":"quantitative"}}},
{"data":{"name":"price"},
 "mark":{"type":"rule","color":"#c00000","strokeWidth":1},
 "encoding":{"y":{"field":"p","type":"quantitative"}}},
{"data":{"name":"vline"},
 "mark":{"type":"rule","color":"#8a2be2","strokeWidth":5},
 "encoding":{"x":{"field":"i","type":"quantitative"}}},
{"data":{"name":"box"},
 "mark":{"type":"rect","fill":"transparent","stroke":"#ff3cf2","strokeWidth":5},
 "encoding":{
  "x":{"field":"x1","type":"quantitative"},"x2":{"field":"x2"},
  "y":{"field":"y1","type":"quantitative"},"y2":{"field":"y2"}}},
{"data":{"name":"tag"},
 "mark":{"type":"rect","fill":"#8a2be2"},
 "encoding":{
  "x":{"field":"x1","type":"quantitative"},"x2":{"field":"x2"},
  "y":{"field":"y1","type":"quantitative"},"y2":{"field":"y2"}}},
{"data":{"name":"tag"},
 "mark":{"type":"text","color":"#ffffff","font":"Liberation Sans","fontSize":10.5,"align":"center","baseline":"middle"},
 "encoding":{
  "x":{"field":"xm","type":"quantitative"},
  "y":{"field":"ym","type":"quantitative"},
  "text":{"field":"label"}}},
{"data":{"name":"ptag"},
 "mark":{"type":"rect","fill":"#ff0000"},
 "encoding":{
  "x":{"field":"x1","type":"quantitative"},"x2":{"field":"x2"},
  "y":{"field":"y1","type":"quantitative"},"y2":{"field":"y2"}}},
{"data":{"name":"ptag"},
 "mark":{"type":"text","color":"#ffffff","font":"Liberation Sans","fontSize":10,"align":"left","baseline":"middle"},
 "encoding":{
  "x":{"field":"xt","type":"quantitative"},
  "y":{"field":"yt","type":"quantitative"},
  "text":{"field":"label"}}}
]
}
